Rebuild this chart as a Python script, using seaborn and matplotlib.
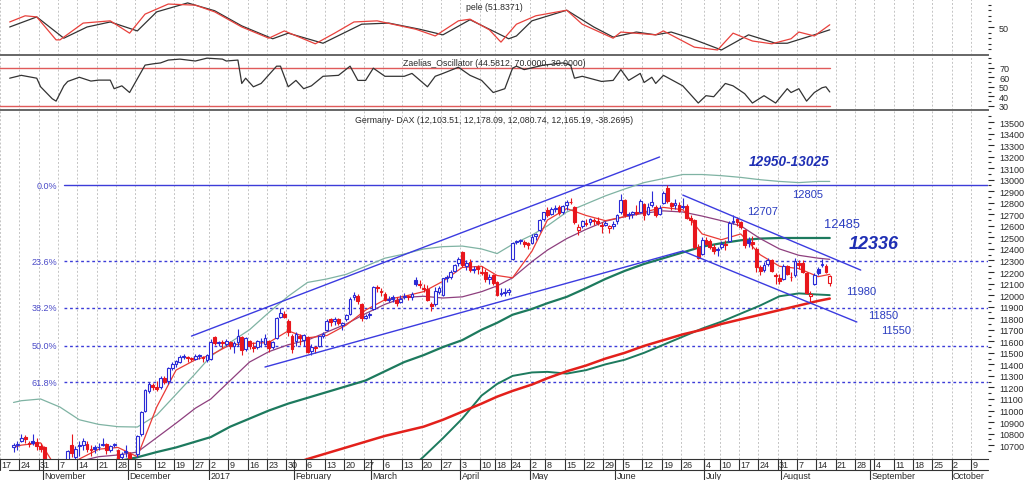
import numpy as np
import pandas as pd
import matplotlib
matplotlib.use('Agg')
import matplotlib.pyplot as plt
import matplotlib.transforms as mtransforms
import seaborn as sns

sns.set_theme(style='white')
plt.rcParams['font.family'] = ['Liberation Sans', 'DejaVu Sans']

# ---------------- daily candles, 2016-10-20 .. 2017-08-17 (one line per month) ----------------
opens = [
    10680, 10700, 10740, 10770, 10720, 10740, 10730, 10690,
    10680, 10480, 10400, 10330, 10420, 10460, 10210, 10700, 10600, 10700, 10700, 10710, 10660, 10680, 10680, 10700, 10710, 10660, 10700, 10660, 10600, 10650,
    10620, 10520, 10620, 10800, 11000, 11170, 11220, 11200, 11200, 11280, 11260, 11370, 11400, 11420, 11470, 11460, 11450, 11450, 11480, 11460, 11440,
    11450, 11640, 11590, 11590, 11580, 11590, 11560, 11590, 11640, 11530, 11600, 11550, 11550, 11600, 11580, 11600, 11550, 11630, 11810, 11840, 11780, 11650,
    11600, 11650, 11610, 11640, 11520, 11550, 11560, 11650, 11700, 11790, 11780, 11790, 11740, 11790, 11840, 11980, 11990, 11920, 11800, 11830,
    11880, 12070, 12030, 12010, 11960, 11980, 11960, 11940, 11980, 11990, 11980, 12130, 12090, 12060, 12050, 11920, 11920, 12030, 12000, 12150, 12160, 12210, 12280,
    12370, 12250, 12290, 12220, 12240, 12190, 12200, 12140, 12170, 12110, 12010, 12020, 12030, 12310, 12460, 12470, 12460, 12450,
    12450, 12510, 12560, 12660, 12740, 12700, 12750, 12760, 12720, 12780, 12810, 12760, 12560, 12600, 12620, 12630, 12650, 12640, 12610, 12610, 12580, 12600,
    12640, 12720, 12820, 12700, 12700, 12720, 12720, 12790, 12700, 12780, 12760, 12700, 12800, 12930, 12800, 12780, 12780, 12760, 12770, 12670, 12650, 12420,
    12360, 12480, 12470, 12420, 12400, 12420, 12440, 12470, 12630, 12660, 12630, 12560, 12480, 12460, 12400, 12240, 12220, 12270, 12300, 12170, 12150,
    12140, 12250, 12160, 12170, 12280, 12280, 12190, 11990, 12100, 12230, 12260, 12250, 12103.51,
]
highs = [
    10720, 10740, 10800, 10790, 10740, 10800, 10760, 10720,
    10690, 10500, 10420, 10350, 10480, 10500, 10660, 10800, 10690, 10740, 10760, 10740, 10700, 10700, 10720, 10760, 10720, 10700, 10720, 10670, 10640, 10700,
    10640, 10560, 10790, 11000, 11190, 11250, 11240, 11260, 11300, 11300, 11380, 11420, 11440, 11480, 11490, 11470, 11460, 11490, 11490, 11470, 11490,
    11620, 11650, 11600, 11610, 11620, 11600, 11600, 11710, 11650, 11640, 11610, 11590, 11610, 11630, 11660, 11610, 11600, 11810, 11890, 11860, 11790, 11660,
    11680, 11660, 11660, 11650, 11580, 11560, 11650, 11680, 11790, 11800, 11810, 11800, 11770, 11840, 11980, 12030, 12010, 11930, 11840, 11850,
    12080, 12090, 12060, 12030, 11990, 12000, 11980, 12000, 12020, 12000, 12030, 12160, 12130, 12100, 12090, 11940, 12070, 12080, 12150, 12170, 12220, 12270, 12330,
    12380, 12300, 12310, 12250, 12260, 12250, 12230, 12180, 12180, 12120, 12060, 12060, 12060, 12460, 12480, 12490, 12480, 12460,
    12530, 12540, 12660, 12720, 12760, 12760, 12780, 12780, 12780, 12820, 12840, 12770, 12620, 12650, 12660, 12670, 12670, 12680, 12630, 12640, 12610, 12640,
    12700, 12880, 12830, 12720, 12730, 12780, 12830, 12800, 12800, 12900, 12780, 12780, 12900, 12951, 12810, 12830, 12810, 12840, 12790, 12690, 12660, 12440,
    12500, 12500, 12490, 12440, 12420, 12470, 12480, 12640, 12690, 12680, 12640, 12570, 12500, 12510, 12420, 12260, 12290, 12320, 12310, 12190, 12180,
    12270, 12260, 12200, 12320, 12300, 12300, 12200, 12040, 12190, 12240, 12310, 12270, 12178.09,
]
lows = [
    10640, 10660, 10730, 10720, 10680, 10700, 10660, 10640,
    10510, 10340, 10300, 10230, 10400, 10430, 10170, 10600, 10550, 10610, 10660, 10640, 10610, 10630, 10660, 10690, 10620, 10640, 10680, 10570, 10560, 10600,
    10500, 10480, 10600, 10780, 10990, 11150, 11180, 11170, 11190, 11230, 11230, 11350, 11380, 11410, 11450, 11420, 11430, 11440, 11450, 11420, 11420,
    11440, 11570, 11560, 11540, 11560, 11530, 11500, 11560, 11480, 11520, 11530, 11510, 11530, 11550, 11570, 11510, 11530, 11620, 11800, 11800, 11650, 11500,
    11560, 11570, 11560, 11500, 11480, 11500, 11550, 11630, 11690, 11730, 11740, 11740, 11700, 11780, 11830, 11960, 11920, 11780, 11790, 11800,
    11870, 12030, 11990, 11950, 11940, 11940, 11910, 11930, 11970, 11960, 11960, 12080, 12060, 12030, 11950, 11860, 11910, 12010, 11990, 12110, 12140, 12200, 12250,
    12240, 12220, 12200, 12190, 12180, 12170, 12110, 12100, 12090, 11990, 11990, 11990, 12000, 12300, 12440, 12440, 12420, 12400,
    12440, 12480, 12550, 12640, 12680, 12690, 12720, 12690, 12700, 12740, 12790, 12620, 12520, 12580, 12600, 12610, 12610, 12610, 12540, 12600, 12540, 12570,
    12620, 12700, 12680, 12660, 12670, 12690, 12710, 12650, 12690, 12760, 12680, 12690, 12790, 12800, 12740, 12750, 12720, 12750, 12660, 12610, 12400, 12310,
    12350, 12430, 12400, 12360, 12340, 12400, 12390, 12460, 12620, 12600, 12570, 12410, 12420, 12400, 12200, 12170, 12200, 12250, 12200, 12100, 12100,
    12130, 12170, 12120, 12160, 12230, 12190, 12010, 11940, 12090, 12170, 12240, 12190, 12080.74,
]
closes = [
    10701, 10711, 10761, 10757, 10709, 10717, 10696, 10665,
    10526, 10370, 10325, 10259, 10456, 10482, 10646, 10630, 10668, 10693, 10735, 10664, 10663, 10664, 10685, 10713, 10662, 10689, 10700, 10582, 10620, 10640,
    10534, 10513, 10775, 10986, 11180, 11230, 11203, 11190, 11284, 11244, 11366, 11404, 11427, 11464, 11468, 11456, 11450, 11473, 11474, 11451, 11481,
    11598, 11584, 11585, 11584, 11599, 11563, 11583, 11646, 11521, 11629, 11555, 11540, 11599, 11599, 11630, 11545, 11594, 11806, 11848, 11814, 11681, 11535,
    11659, 11627, 11651, 11509, 11549, 11543, 11643, 11666, 11774, 11771, 11793, 11757, 11757, 11827, 11967, 11998, 11948, 11804, 11822, 11834,
    12067, 12060, 12027, 11958, 11967, 11967, 11929, 11963, 11990, 11988, 12009, 12100, 12095, 12052, 11962, 11904, 12039, 12064, 12149, 12149, 12204, 12257, 12313,
    12257, 12282, 12217, 12230, 12225, 12200, 12139, 12154, 12109, 12000, 12016, 12027, 12048, 12455, 12467, 12473, 12443, 12438,
    12507, 12527, 12648, 12716, 12694, 12749, 12757, 12711, 12770, 12808, 12804, 12631, 12590, 12638, 12619, 12659, 12642, 12621, 12602, 12629, 12599, 12615,
    12690, 12822, 12690, 12695, 12720, 12714, 12816, 12691, 12765, 12806, 12691, 12752, 12888, 12814, 12774, 12794, 12733, 12770, 12672, 12647, 12416, 12325,
    12475, 12440, 12420, 12381, 12389, 12445, 12437, 12627, 12641, 12631, 12587, 12430, 12452, 12447, 12240, 12209, 12264, 12305, 12212, 12162, 12118,
    12251, 12181, 12154, 12297, 12257, 12200, 12020, 12014, 12170, 12190, 12270, 12203, 12165.19,
]

# ---------------- moving averages / bands, read weekly ----------------
ma_days = ['2016-10-20', '2016-10-24', '2016-10-31', '2016-11-07', '2016-11-14', '2016-11-21', '2016-11-28',
           '2016-12-05', '2016-12-12', '2016-12-19', '2016-12-27', '2017-01-02', '2017-01-09', '2017-01-16',
           '2017-01-23', '2017-01-30', '2017-02-06', '2017-02-13', '2017-02-20', '2017-02-27', '2017-03-06',
           '2017-03-13', '2017-03-20', '2017-03-27', '2017-04-03', '2017-04-10', '2017-04-18', '2017-04-24',
           '2017-05-02', '2017-05-08', '2017-05-15', '2017-05-22', '2017-05-29', '2017-06-05', '2017-06-12',
           '2017-06-19', '2017-06-26', '2017-07-03', '2017-07-10', '2017-07-17', '2017-07-24', '2017-07-31',
           '2017-08-07', '2017-08-14', '2017-08-17']
nan = np.nan
ma_fast = [10680, 10700, 10720, 10450, 10580, 10665, 10680, 10600, 11030, 11350, 11440, 11480, 11570, 11580,
           11590, 11690, 11630, 11650, 11740, 11870, 11960, 11990, 12030, 12120, 12240, 12250, 12170, 12150,
           12380, 12650, 12750, 12690, 12645, 12680, 12720, 12760, 12740, 12530, 12480, 12530, 12350, 12250,
           12230, 12160, 12180]
ma_mid = [nan, nan, nan, nan, 10560, 10600, 10615, 10640, 10765, 10890, 11020, 11100, 11260, 11420,
          11510, 11570, 11610, 11680, 11750, 11840, 11920, 11980, 11990, 11975, 11985, 12030, 12080, 12150,
          12290, 12390, 12490, 12570, 12640, 12680, 12710, 12730, 12720, 12685, 12645, 12600, 12490, 12400,
          12345, 12320, 12310]
band_top = [11070, 11085, 11100, 11030, 10920, 10880, 10860, 10857, 10960, 11140, 11320, 11470, 11590, 11700,
            11850, 11990, 12110, 12140, 12180, 12250, 12320, 12356, 12400, 12420, 12425, 12400, 12360, 12440,
            12520, 12600, 12720, 12790, 12860, 12920, 12975, 13010, 13045, 13045, 13035, 13020, 13000, 12985,
            12975, 12985, 12985]
ma_green = [nan, nan, nan, nan, nan, nan, 10560, 10595, 10640, 10680, 10730, 10770, 10860, 10930,
            11000, 11060, 11110, 11160, 11210, 11260, 11340, 11420, 11480, 11550, 11610, 11700, 11760, 11830,
            11880, 11930, 11985, 12060, 12140, 12210, 12270, 12320, 12370, 12420, 12450, 12475, 12490, 12495,
            12495, 12495, 12495]
ma_green2 = [nan, nan, nan, nan, nan, nan, nan, nan, nan, nan, nan, nan, nan, nan,
             nan, nan, nan, nan, nan, nan, nan, 10450, 10600, 10760, 10930, 11130, 11230, 11300,
             11330, 11335, 11320, 11350, 11400, 11440, 11500, 11570, 11640, 11710, 11770, 11840, 11910, 11990,
             12015, 12005, 12000]
ma_slow = [nan, nan, nan, nan, nan, nan, nan, nan, nan, nan, nan, nan, nan, nan,
           nan, 10520, 10580, 10630, 10680, 10730, 10780, 10820, 10860, 10920, 10990, 11060, 11120, 11170,
           11225, 11280, 11340, 11390, 11450, 11500, 11560, 11610, 11660, 11700, 11750, 11790, 11830, 11870,
           11910, 11950, 11970]

# ---------------- fibonacci retracement ----------------
fib_labels = ['0.0%', '23.6%', '38.2%', '50.0%', '61.8%']
fib_levels = [12954, 12295, 11892, 11563, 11247]
fib_start = '2016-11-08'

# ---------------- trend channels (start/end day, price) ----------------
up_top = (['2016-12-23', '2017-06-16'], [11645, 13197])
up_bottom = (['2017-01-20', '2017-06-26'], [11377, 12382])
down_top = (['2017-06-26', '2017-08-29'], [12867, 12217])
down_bottom = (['2017-06-26', '2017-08-28'], [12382, 11767])

# ---------------- top panel "pele" ----------------
pele_black_days = ['2016-10-19', '2016-10-28', '2016-11-08', '2016-11-16', '2016-11-24', '2016-12-05', '2016-12-12',
                   '2016-12-22', '2017-01-03', '2017-01-12', '2017-01-24', '2017-01-30', '2017-02-10', '2017-02-24',
                   '2017-03-07', '2017-03-17', '2017-03-27', '2017-04-05', '2017-04-21', '2017-04-25', '2017-05-02',
                   '2017-05-15', '2017-05-24', '2017-05-31', '2017-06-08', '2017-06-15', '2017-06-21', '2017-06-28',
                   '2017-07-10', '2017-07-19', '2017-07-28', '2017-08-02', '2017-08-11', '2017-08-17']
pele_black = [50, 68, 30, 50, 59, 43, 77, 93, 79, 52, 29, 39, 21, 55, 57, 46, 36, 63, 29, 34, 61, 80, 50, 32,
              41, 36, 41, 30, 9, 36, 21, 21, 36, 45]
pele_red_days = ['2016-10-19', '2016-10-25', '2016-10-28', '2016-11-04', '2016-11-07', '2016-11-15', '2016-11-24',
                 '2016-12-01', '2016-12-07', '2016-12-15', '2016-12-27', '2017-01-03', '2017-01-12', '2017-01-23',
                 '2017-01-27', '2017-02-08', '2017-02-15', '2017-02-22', '2017-03-02', '2017-03-16', '2017-03-23',
                 '2017-03-31', '2017-04-05', '2017-04-12', '2017-04-19', '2017-04-25', '2017-05-03', '2017-05-15',
                 '2017-05-19', '2017-05-31', '2017-06-02', '2017-06-15', '2017-06-19', '2017-06-29', '2017-07-07',
                 '2017-07-13', '2017-07-20', '2017-07-27', '2017-08-03', '2017-08-07', '2017-08-11', '2017-08-17']
pele_red = [59, 70, 68, 27, 27, 57, 61, 39, 73, 91, 89, 77, 50, 30, 43, 20, 39, 59, 61, 46, 34, 61, 64, 45,
            23, 55, 70, 80, 55, 30, 41, 36, 43, 14, 9, 39, 25, 20, 29, 41, 34, 54]

# ---------------- oscillator panel ----------------
osc_days = ['2016-10-19', '2016-10-24', '2016-10-28', '2016-10-31', '2016-11-03', '2016-11-04', '2016-11-08',
            '2016-11-09', '2016-11-14', '2016-11-17', '2016-11-21', '2016-11-24', '2016-11-25', '2016-11-29',
            '2016-12-01', '2016-12-07', '2016-12-09', '2016-12-13', '2016-12-15', '2016-12-20', '2016-12-27',
            '2016-12-30', '2017-01-05', '2017-01-06', '2017-01-11', '2017-01-12', '2017-01-13', '2017-01-17',
            '2017-01-19', '2017-01-25', '2017-01-26', '2017-01-30', '2017-02-01', '2017-02-03', '2017-02-07',
            '2017-02-10', '2017-02-16', '2017-02-21', '2017-02-23', '2017-02-27', '2017-03-01', '2017-03-06',
            '2017-03-13', '2017-03-15', '2017-03-21', '2017-03-23', '2017-03-27', '2017-03-31', '2017-04-05',
            '2017-04-10', '2017-04-13', '2017-04-20', '2017-04-24', '2017-04-25', '2017-04-27', '2017-05-05',
            '2017-05-12', '2017-05-16', '2017-05-17', '2017-05-19', '2017-05-26', '2017-05-31', '2017-06-02',
            '2017-06-06', '2017-06-09', '2017-06-12', '2017-06-14', '2017-06-15', '2017-06-19', '2017-06-26',
            '2017-06-30', '2017-07-04', '2017-07-06', '2017-07-11', '2017-07-13', '2017-07-18', '2017-07-20',
            '2017-07-25', '2017-07-28', '2017-08-02', '2017-08-03', '2017-08-07', '2017-08-09', '2017-08-11',
            '2017-08-15', '2017-08-16', '2017-08-17']
osc = [59, 62, 59, 50, 37.5, 35, 51, 55.6, 60, 56, 57, 57, 48, 51, 44, 72.7, 74, 75, 78, 79, 77, 80, 79, 77,
       78, 53.5, 59, 50, 53.5, 71.6, 71.6, 50, 56.7, 48, 51, 61, 62, 71.6, 56.7, 56.7, 69.5, 61, 61, 64, 50,
       61, 64, 70.5, 62, 56.7, 44, 48, 69.5, 71.6, 68, 72.7, 75, 72.7, 59, 61, 55.6, 56.7, 68, 56.7, 64, 54.5,
       60, 53.5, 62, 51, 33, 40.7, 39.6, 53.5, 51, 42.8, 33, 40.7, 33, 48, 44, 48, 35, 44, 49, 50, 44.6]
osc_bands = [70, 30]

# ---------------- x axis labels ----------------
week_ticks = ['2016-10-17', '2016-10-24', '2016-10-31', '2016-11-07', '2016-11-14', '2016-11-21', '2016-11-28',
              '2016-12-05', '2016-12-12', '2016-12-19', '2016-12-27', '2017-01-02', '2017-01-09', '2017-01-16',
              '2017-01-23', '2017-01-30', '2017-02-06', '2017-02-13', '2017-02-20', '2017-02-27', '2017-03-06',
              '2017-03-13', '2017-03-20', '2017-03-27', '2017-04-03', '2017-04-10', '2017-04-18', '2017-04-24',
              '2017-05-02', '2017-05-08', '2017-05-15', '2017-05-22', '2017-05-29', '2017-06-05', '2017-06-12',
              '2017-06-19', '2017-06-26', '2017-07-04', '2017-07-10', '2017-07-17', '2017-07-24', '2017-07-31',
              '2017-08-07', '2017-08-14', '2017-08-21', '2017-08-28', '2017-09-04', '2017-09-11', '2017-09-18',
              '2017-09-25', '2017-10-02', '2017-10-09']
month_ticks = ['2016-11-01', '2016-12-01', '2017-01-02', '2017-02-01', '2017-03-01', '2017-04-03',
               '2017-05-02', '2017-06-01', '2017-07-04', '2017-08-01', '2017-09-01', '2017-10-02']
month_labels = ['November', 'December', '2017', 'February', 'March', 'April', 'May', 'June', 'July',
                'August', 'September', 'October']

# ---------------- trading calendar -> x positions ----------------
holidays = pd.to_datetime(['2016-12-26', '2017-04-14', '2017-04-17', '2017-05-01'])
cal = pd.bdate_range('2016-10-17', '2017-10-31')
cal = cal[~cal.isin(holidays)]
pos = pd.Series(np.arange(len(cal), dtype=float), index=cal)


def xpos(days):
    return pos.loc[pd.to_datetime(days)].values


candle_days = cal[(cal >= '2016-10-20') & (cal <= '2017-08-17')]
XLIM = (1.93, 254.9)

BLUE = '#2b2bd6'
RED = '#e8161c'
TXT = '#2a2a2a'
ANN = '#2a3cc0'
GRID = '#c4c4c4'

fig = plt.figure(figsize=(10.24, 4.81), dpi=100)
W, H = 1024, 481


def panel(top, bottom, right=988):
    return fig.add_axes([0, 1 - bottom / H, right / W, (bottom - top) / H])


ax_p = panel(0, 56)
ax_o = panel(56, 111)
ax = panel(111, 460)

grid_x = xpos(week_ticks) - 0.5
for a in (ax_p, ax_o, ax):
    a.set_xlim(*XLIM)
    a.set_xticks(grid_x)
    a.set_xticklabels([])
    a.tick_params(axis='x', bottom=False, length=0)
    a.grid(axis='x', color=GRID, linestyle=(0, (2, 2)), linewidth=0.7)
    a.grid(axis='y', visible=False)
    a.yaxis.tick_right()
    a.tick_params(axis='y', which='major', direction='out', length=4, width=0.8,
                  colors=TXT, labelsize=6.5, pad=4)
    a.tick_params(axis='y', which='minor', direction='out', length=2, width=0.8, colors=TXT, right=True)
    for s in ('left', 'right', 'bottom', 'top'):
        a.spines[s].set_visible(False)
    a.set_facecolor('white')

# ---- pele panel ----
sns.lineplot(x=xpos(pele_black_days), y=pele_black, ax=ax_p, color='#333333', linewidth=0.9, estimator=None)
sns.lineplot(x=xpos(pele_red_days), y=pele_red, ax=ax_p, color='#e8413c', linewidth=0.9, estimator=None)
ax_p.set_ylim(0, 100)
ax_p.set_yticks([50])
ax_p.set_yticks(np.arange(10, 100, 10), minor=True)
ax_p.text(0.5, 0.86, 'pele (51.8371)', transform=ax_p.transAxes, ha='center', va='center',
          fontsize=6.3, color=TXT)

# ---- oscillator panel ----
ox = xpos(osc_days)
for b in osc_bands:
    ax_o.plot([ox[0] - 3, ox[-1]], [b, b], color='#e05a5a', linewidth=1.0, zorder=2)
sns.lineplot(x=ox, y=osc, ax=ax_o, color='#333333', linewidth=0.9, estimator=None, zorder=3)
ax_o.set_ylim(25.7, 83.3)
ax_o.set_yticks([30, 40, 50, 60, 70])
ax_o.set_yticks([35, 45, 55, 65, 75, 80], minor=True)
ax_o.spines['top'].set_visible(True)
ax_o.spines['top'].set_color('#666666')
ax_o.spines['top'].set_linewidth(1.4)
ax_o.text(0.5, 0.87, 'Zaelias_Oscillator (44.5812, 70.0000, 30.0000)', transform=ax_o.transAxes,
          ha='center', va='center', fontsize=6.3, color=TXT)

# ---- main panel ----
ax.set_ylim(10580, 13604)
ax.set_yticks(np.arange(10700, 13501, 100))
ax.set_yticks(np.arange(10650, 13600, 50), minor=True)
ax.spines['top'].set_visible(True)
ax.spines['top'].set_color('#666666')
ax.spines['top'].set_linewidth(1.4)
ax.spines['bottom'].set_visible(True)
ax.spines['bottom'].set_color('#333333')
ax.spines['bottom'].set_linewidth(0.8)

# fibonacci levels
fx0 = xpos([fib_start])[0]
for i, (lab, lvl) in enumerate(zip(fib_labels, fib_levels)):
    ls = '-' if i == 0 else (0, (2, 2))
    ax.plot([fx0, XLIM[1]], [lvl, lvl], color='#3c3cd8', linewidth=1.0, linestyle=ls, zorder=1)
    ax.text(fx0 - 1.8, lvl, lab, ha='right', va='center', fontsize=6.5, color='#4b4bc8')

# indicator lines
mx = xpos(ma_days)
sns.lineplot(x=mx, y=band_top, ax=ax, color='#7fb3a3', linewidth=0.9, estimator=None, zorder=2)
sns.lineplot(x=mx, y=ma_green, ax=ax, color='#1d7a5e', linewidth=1.6, estimator=None, zorder=2)
sns.lineplot(x=mx, y=ma_green2, ax=ax, color='#1d7a5e', linewidth=1.4, estimator=None, zorder=2)
sns.lineplot(x=mx, y=ma_slow, ax=ax, color='#e3201b', linewidth=1.8, estimator=None, zorder=2)
sns.lineplot(x=mx, y=ma_mid, ax=ax, color='#8e3f7e', linewidth=0.9, estimator=None, zorder=2)
sns.lineplot(x=mx, y=ma_fast, ax=ax, color='#ea3a36', linewidth=0.9, estimator=None, zorder=2)

# trend channels
for days, vals in (up_top, up_bottom, down_top, down_bottom):
    ax.plot(xpos(days), vals, color='#3b3be0', linewidth=1.0, zorder=5)

# candles
cx = xpos(candle_days)
o = np.array(opens, dtype=float)
hi = np.array(highs, dtype=float)
lo = np.array(lows, dtype=float)
c = np.array(closes, dtype=float)
prev = np.r_[o[0], c[:-1]]
col = np.where(c >= prev, BLUE, RED)
face = np.where(c < o, col, 'white')
ax.vlines(cx, lo, hi, colors=col, linewidth=0.8, zorder=3)
ax.bar(cx, np.maximum(np.abs(c - o), 6), bottom=np.minimum(o, c), width=0.72,
       color=face, edgecolor=col, linewidth=0.8, zorder=4)

# level annotations
ax.text(203.5, 13162, '12950-13025', ha='center', va='center', fontsize=9.8,
        fontweight='bold', fontstyle='italic', color='#1f2fb4')
ax.text(204.2, 12876, '12805', ha='left', va='center', fontsize=8, color=ANN)
ax.text(192.7, 12729, '12707', ha='left', va='center', fontsize=8, color=ANN)
ax.text(212.4, 12616, '12485', ha='left', va='center', fontsize=9.3, color=ANN)
ax.text(218.8, 12443, '12336', ha='left', va='center', fontsize=13,
        fontweight='bold', fontstyle='italic', color='#1f2fb4')
ax.text(218.3, 12035, '11980', ha='left', va='center', fontsize=8, color=ANN)
ax.text(224.0, 11827, '11850', ha='left', va='center', fontsize=8, color=ANN)
ax.text(227.3, 11697, '11550', ha='left', va='center', fontsize=8, color=ANN)

ax.text(0.5, 0.972, 'Germany- DAX (12,103.51, 12,178.09, 12,080.74, 12,165.19, -38.2695)',
        transform=ax.transAxes, ha='center', va='center', fontsize=6.3, color=TXT)

# date rows below the main panel
trans = mtransforms.blended_transform_factory(ax.transData, ax.transAxes)
row1 = -11 / 349
row2 = -22 / 349
ax.plot(XLIM, [row1, row1], transform=trans, clip_on=False, color='#333333', linewidth=0.8)
for d in week_ticks:
    x = xpos([d])[0] - 0.5
    ax.plot([x, x], [0, row1], transform=trans, clip_on=False, color='#333333', linewidth=0.8)
    ax.text(x + 0.35, row1 / 2, str(pd.Timestamp(d).day), transform=trans, ha='left', va='center',
            fontsize=6.5, color=TXT)
for d, lab in zip(month_ticks, month_labels):
    x = xpos([d])[0] - 0.5
    ax.plot([x, x], [0, row2], transform=trans, clip_on=False, color='#333333', linewidth=0.8)
    ax.text(x + 0.35, (row1 + row2) / 2, lab, transform=trans, ha='left', va='center',
            fontsize=6.5, color=TXT)

fig.savefig('out.png', dpi=100, facecolor='white')
